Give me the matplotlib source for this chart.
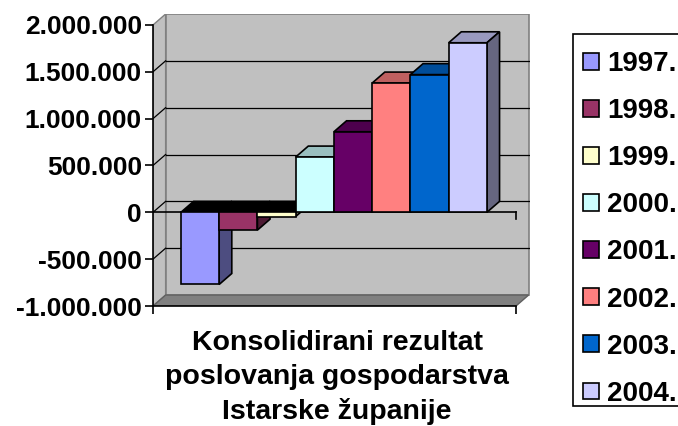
import matplotlib.pyplot as plt
import numpy as np
from matplotlib.patches import Polygon, Patch, Rectangle

plt.rcParams['font.family'] = ['Liberation Sans', 'DejaVu Sans']
plt.rcParams['font.weight'] = 'bold'
fontsize = 19

years = ['1997.', '1998.', '1999.', '2000.', '2001.', '2002.', '2003.', '2004.']
values = [-770000, -190000, -45000, 590000, 860000, 1380000, 1470000, 1810000]
colors = ['#9999FF', '#993366', '#FFFFCC', '#CCFFFF', '#660066', '#FF8080', '#0066CC', '#CCCCFF']
yticks = [-1000000, -500000, 0, 500000, 1000000, 1500000, 2000000]
xlabel = 'Konsolidirani rezultat\nposlovanja gospodarstva\nIstarske županije'

# fake 3d: depth offset (x in bar widths, y in value units)
dx, dy = 0.33, 117000
x0, x1 = -0.73, 8.76
ymin, ymax = yticks[0], yticks[-1]


def shade(c, f):
    r, g, b = plt.matplotlib.colors.to_rgb(c)
    return (r * f, g * f, b * f)


def poly(ax, pts, fc, ec='black', lw=1.2, z=2):
    ax.add_patch(Polygon(pts, closed=True, facecolor=fc, edgecolor=ec, linewidth=lw, zorder=z, joinstyle='miter'))


fig = plt.figure(figsize=(6.78, 4.26), dpi=100)
W, H = 678., 426.
ax = fig.add_axes([153 / W, 1 - 306 / H, (530 - 153) / W, (306 - 14) / H])
ax.set_xlim(x0, x0 + (530 - 153) / 38.25)
ax.set_ylim(ymin, 2117000)
ax.patch.set_visible(False)

# walls and floor
poly(ax, [(x0, ymin), (x0 + dx, ymin + dy), (x0 + dx, ymax + dy), (x0, ymax)], '#C0C0C0', ec='#808080', lw=1, z=1)
poly(ax, [(x0 + dx, ymin + dy), (x1 + dx, ymin + dy), (x1 + dx, ymax + dy), (x0 + dx, ymax + dy)], '#C0C0C0', ec='#808080', lw=1.2, z=1)
poly(ax, [(x0, ymin), (x1, ymin), (x1 + dx, ymin + dy), (x0 + dx, ymin + dy)], '#808080', ec='#606060', lw=1, z=1)
for v in yticks[1:-1]:
    ax.plot([x0 + dx, x1 + dx], [v + dy, v + dy], color='black', lw=0.9, zorder=1.5)
    ax.plot([x0, x0 + dx], [v, v + dy], color='black', lw=0.9, zorder=1.5)

# zero plane front edge
ax.plot([x0, x1], [0, 0], color='black', lw=1.2, zorder=1.6)
ax.plot([x1, x1], [0, -75000], color='black', lw=1.2, zorder=1.6, clip_on=False)

# bars, left to right so the next front face hides the previous side
for i, v in enumerate(values):
    c = colors[i]
    if v >= 0:
        poly(ax, [(i, v), (i + dx, v + dy), (i + 1 + dx, v + dy), (i + 1, v)], shade(c, 0.75), z=3 + i)
    else:
        poly(ax, [(i, 0), (i + dx, dy), (i + 1 + dx, dy), (i + 1, 0)], 'black', z=3 + i)
    poly(ax, [(i + 1, 0), (i + 1 + dx, dy), (i + 1 + dx, v + dy), (i + 1, v)], shade(c, 0.5), z=3 + i)
    poly(ax, [(i, 0), (i + 1, 0), (i + 1, v), (i, v)], c, z=3 + i)

# axes
for s in ['top', 'right']:
    ax.spines[s].set_visible(False)
ax.spines['left'].set_bounds(ymin, ymax)
ax.spines['bottom'].set_bounds(x0, x1)
ax.spines['left'].set_linewidth(1.2)
ax.spines['bottom'].set_linewidth(1.2)
ax.spines['left'].set_zorder(20)
ax.spines['bottom'].set_zorder(20)
ax.set_yticks(yticks)
ax.set_yticklabels(['{:,}'.format(v).replace(',', '.') for v in yticks], fontsize=fontsize, fontweight='bold')
ax.set_xticks([x0, x1])
ax.set_xticklabels(['', ''])
ax.tick_params(axis='both', direction='out', length=6, width=1.2, pad=2)

fig.text(337 / W, 1 - 330 / H, xlabel, ha='center', va='top', fontsize=20.5, fontweight='bold', linespacing=1.4)

# legend: frame drawn separately, it runs off the right edge
fig.add_artist(Rectangle((573 / W, 1 - 406 / H), 140 / W, 372 / H, transform=fig.transFigure,
                         facecolor='white', edgecolor='black', linewidth=1.2, zorder=1))
handles = [Patch(facecolor=c, edgecolor='black', linewidth=1.2) for c in colors]
leg = fig.legend(handles, years, loc='upper left', bbox_to_anchor=(583 / W, 1 - 51 / H), borderaxespad=0,
                 prop={'weight': 'bold', 'size': 20}, frameon=False,
                 handlelength=0.56, handleheight=0.56, handletextpad=0.3, labelspacing=0.76, borderpad=0)
leg.set_zorder(2)

fig.savefig('out.png', dpi=100)
